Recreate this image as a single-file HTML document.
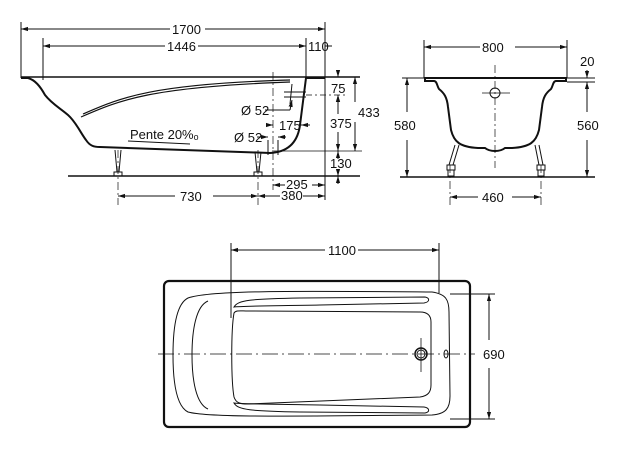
<!DOCTYPE html>
<html><head><style>
html,body{margin:0;padding:0;background:#fff;}
svg{display:block;}
text{font-family:"Liberation Sans",Arial,sans-serif;font-size:13px;fill:#111;}
</style></head><body>
<svg width="619" height="449" viewBox="0 0 619 449" xmlns="http://www.w3.org/2000/svg">
<defs>
<marker id="a" viewBox="0 0 10 10" refX="10" refY="5" markerWidth="7" markerHeight="7" orient="auto-start-reverse"><path d="M0,2 L10,5 L0,8 z" fill="#111"/></marker>
</defs>
<g stroke="#111" fill="none" stroke-width="1">
<!-- SIDE VIEW -->
<line x1="21" y1="22" x2="21" y2="78"/>
<line x1="325" y1="22" x2="325" y2="200"/>
<line x1="43" y1="38" x2="43" y2="80"/>
<line x1="306" y1="38" x2="306" y2="78"/>
<line x1="21" y1="29" x2="170" y2="29" marker-start="url(#a)"/>
<line x1="205" y1="29" x2="325" y2="29" marker-end="url(#a)"/>
<line x1="43" y1="46" x2="165" y2="46" marker-start="url(#a)"/>
<line x1="198" y1="46" x2="306" y2="46" marker-end="url(#a)"/>
<line x1="325" y1="46" x2="332" y2="46"/>
<!-- rim -->
<line x1="21" y1="77" x2="360" y2="77" stroke-width="1.6"/>
<path d="M21,78 L28,78 C35,80 40,86 45,95 C52,104 60,108 68,115 C76,122 80,132 86,140 C90,146 94,147 100,147 L270,153 C290,152 298,140 300,125 L306,78 L325,78" stroke-width="2"/>
<path d="M81,117 C120,100 150,87 290,82 M83,114 C120,98 150,84 290,80" stroke-width="1.2"/>
<line x1="68" y1="176" x2="360" y2="176" stroke-width="1.6"/>
<!-- legs -->
<path d="M115,150 L117,172 M121,150 L119,172 M114,172 h8 v4 h-8z"/>
<path d="M255,152 L257,172 M261,152 L259,172 M254,172 h8 v4 h-8z"/>
<line x1="118" y1="150" x2="118" y2="205" stroke-dasharray="8,3,2,3" stroke-width="0.7"/>
<line x1="258" y1="150" x2="258" y2="205" stroke-dasharray="8,3,2,3" stroke-width="0.7"/>
<line x1="273" y1="72" x2="273" y2="190" stroke-dasharray="8,3,2,3" stroke-width="0.7"/>
<line x1="268" y1="140" x2="268" y2="155"/>
<line x1="278" y1="140" x2="278" y2="155"/>
<!-- Pente -->
<line x1="128" y1="141" x2="190" y2="144"/>
<!-- overflow -->
<line x1="292" y1="84" x2="290" y2="104"/>
<line x1="284" y1="92" x2="306" y2="92"/>
<line x1="284" y1="97" x2="306" y2="97"/>
<line x1="265" y1="110" x2="290" y2="110"/>
<line x1="290" y1="110" x2="292" y2="100" marker-end="url(#a)"/>
<line x1="268" y1="125" x2="273" y2="125" marker-end="url(#a)"/>
<line x1="310" y1="125" x2="301" y2="125" marker-end="url(#a)"/>
<line x1="257" y1="137" x2="268" y2="137" marker-end="url(#a)"/>
<line x1="286" y1="137" x2="278" y2="137" marker-end="url(#a)"/>
<!-- vertical dims -->
<line x1="306" y1="95" x2="345" y2="95" stroke-dasharray="6,3,2,3" stroke-width="0.7"/>
<line x1="272" y1="151" x2="362" y2="151" stroke-width="0.7"/>
<line x1="338" y1="70" x2="338" y2="77" marker-end="url(#a)"/>
<line x1="338" y1="102" x2="338" y2="95" marker-end="url(#a)"/>
<line x1="338" y1="112" x2="338" y2="95" marker-start="url(#a)" stroke-width="0"/>
<line x1="338" y1="132" x2="338" y2="151" marker-end="url(#a)"/>
<line x1="338" y1="114" x2="338" y2="95" marker-end="url(#a)"/>
<line x1="338" y1="159" x2="338" y2="151" marker-end="url(#a)"/>
<line x1="338" y1="172" x2="338" y2="176" marker-end="url(#a)"/>
<line x1="338" y1="176" x2="338" y2="184" marker-start="url(#a)"/>
<line x1="355" y1="77" x2="355" y2="102" marker-start="url(#a)"/>
<line x1="355" y1="122" x2="355" y2="151" marker-end="url(#a)"/>
<!-- bottom dims -->
<line x1="273" y1="185" x2="285" y2="185" marker-start="url(#a)"/>
<line x1="312" y1="185" x2="325" y2="185" marker-end="url(#a)"/>
<line x1="118" y1="196" x2="175" y2="196" marker-start="url(#a)"/>
<line x1="213" y1="196" x2="258" y2="196" marker-end="url(#a)"/>
<line x1="258" y1="196" x2="280" y2="196" marker-start="url(#a)"/>
<line x1="303" y1="196" x2="325" y2="196" marker-end="url(#a)"/>

<!-- END VIEW -->
<line x1="424" y1="40" x2="424" y2="78"/>
<line x1="567" y1="40" x2="567" y2="78"/>
<line x1="424" y1="47" x2="480" y2="47" marker-start="url(#a)"/>
<line x1="515" y1="47" x2="567" y2="47" marker-end="url(#a)"/>
<line x1="402" y1="78" x2="424" y2="78"/>
<line x1="567" y1="78" x2="595" y2="78"/>
<line x1="567" y1="82" x2="595" y2="82"/>
<path d="M424,78 h143 M425,78 v3 h9 c3,0 3,5 5,8 c5,4 8,8 9,18 L451,130 C454,142 460,147 478,148 L485,148 C490,152 500,152 505,148 L512,148 C530,147 536,142 539,130 L542,107 C543,97 546,93 551,89 c2,-3 2,-8 5,-8 h10 v-3" stroke-width="2"/>
<line x1="400" y1="177" x2="595" y2="177" stroke-width="1.6"/>
<path d="M455,145 L449,165 M459,145 L453,165 M447,165 h8 v5 h-8z M448,170 h6 v6 h-6z"/>
<path d="M535,145 L539,165 M539,145 L543,165 M537,165 h8 v5 h-8z M538,170 h6 v6 h-6z"/>
<circle cx="495" cy="93" r="5"/>
<line x1="495" y1="65" x2="495" y2="168" stroke-dasharray="8,3,2,3" stroke-width="0.7"/>
<line x1="482" y1="93" x2="510" y2="93" stroke-width="0.7"/>
<line x1="450" y1="165" x2="450" y2="205" stroke-dasharray="8,3,2,3" stroke-width="0.7"/>
<line x1="541" y1="165" x2="541" y2="205" stroke-dasharray="8,3,2,3" stroke-width="0.7"/>
<line x1="450" y1="197" x2="478" y2="197" marker-start="url(#a)"/>
<line x1="512" y1="197" x2="541" y2="197" marker-end="url(#a)"/>
<line x1="407" y1="78" x2="407" y2="112" marker-start="url(#a)"/>
<line x1="407" y1="140" x2="407" y2="177" marker-end="url(#a)"/>
<line x1="587" y1="70" x2="587" y2="78" marker-end="url(#a)"/>
<line x1="587" y1="82" x2="587" y2="112" marker-start="url(#a)"/>
<line x1="587" y1="140" x2="587" y2="177" marker-end="url(#a)"/>

<!-- PLAN VIEW -->
<line x1="231" y1="243" x2="231" y2="318"/>
<line x1="439" y1="243" x2="439" y2="293"/>
<line x1="231" y1="250" x2="325" y2="250" marker-start="url(#a)"/>
<line x1="358" y1="250" x2="439" y2="250" marker-end="url(#a)"/>
<rect x="164" y="281" width="306" height="146" rx="5" stroke-width="2.2"/>
<path d="M188,298 C210,290 300,291 432,292 C446,294 449,300 449,312 L450,396 C450,408 446,414 432,415 C300,416 210,418 188,412 C176,406 173,380 173,355 C173,330 176,304 188,298 Z"/>
<path d="M208,301 C196,306 192,330 192,355 C192,380 196,404 208,409"/>
<path d="M234,313 C231,330 231,380 234,397 C236,403 240,404 248,404 L420,397 C428,396 431,392 431,385 L431,322 C431,316 428,312 420,312 L248,311 C240,311 236,310 234,313 Z"/>
<path d="M234,307 C238,300 250,299 300,298 L425,297 C430,298 430,302 424,303 L320,305 C260,306 240,306 234,307 Z"/>
<path d="M234,403 C238,410 250,411 300,412 L425,413 C430,412 430,408 424,407 L320,405 C260,404 240,404 234,403 Z"/>
<line x1="158" y1="354" x2="475" y2="354" stroke-dasharray="16,4,2,4" stroke-width="0.8"/>
<circle cx="421" cy="354" r="6" stroke-width="1.5"/>
<circle cx="421" cy="354" r="4"/>
<line x1="421" y1="338" x2="421" y2="372" stroke-width="0.8"/>
<ellipse cx="446" cy="354" rx="2" ry="4"/>
<line x1="450" y1="294" x2="495" y2="294"/>
<line x1="450" y1="419" x2="495" y2="419"/>
<line x1="489" y1="294" x2="489" y2="340" marker-start="url(#a)"/>
<line x1="489" y1="368" x2="489" y2="419" marker-end="url(#a)"/>
</g>
<g>
<text x="172" y="34">1700</text>
<text x="167" y="51">1446</text>
<text x="308" y="51">110</text>
<text x="331" y="93">75</text>
<text x="358" y="117">433</text>
<text x="330" y="128">375</text>
<text x="330" y="168">130</text>
<text x="130" y="139">Pente 20%ₒ</text>
<text x="241" y="115">Ø 52</text>
<text x="234" y="142">Ø 52</text>
<text x="279" y="130">175</text>
<text x="286" y="189">295</text>
<text x="281" y="200">380</text>
<text x="180" y="201">730</text>
<text x="482" y="52">800</text>
<text x="580" y="66">20</text>
<text x="394" y="130">580</text>
<text x="577" y="130">560</text>
<text x="482" y="202">460</text>
<text x="328" y="255">1100</text>
<text x="483" y="359">690</text>
</g>
</svg>
</body></html>
